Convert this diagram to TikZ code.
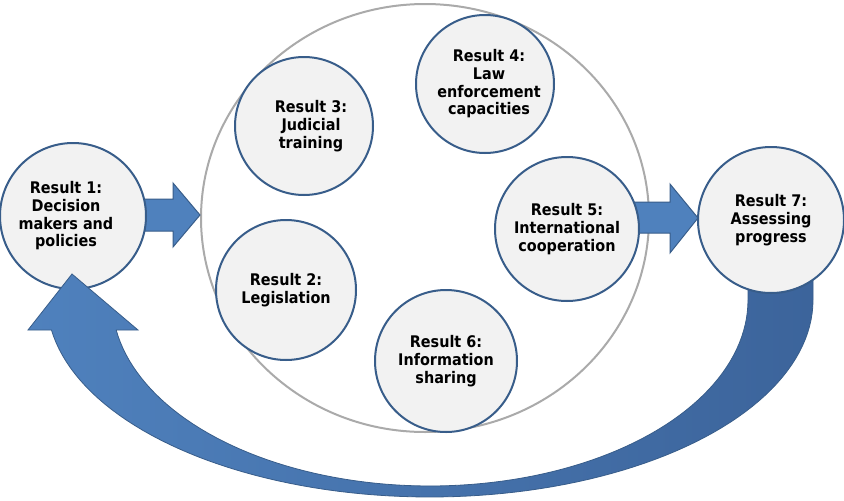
\documentclass[tikz,border=0pt]{standalone}
\usepackage{fontspec}
\setmainfont{DejaVu Sans Condensed}
\usetikzlibrary{shapes.geometric}
\definecolor{cfill}{RGB}{242,242,242}
\definecolor{cline}{RGB}{56,93,138}
\definecolor{gline}{RGB}{170,170,170}
\definecolor{afill}{RGB}{79,129,189}
\definecolor{aline}{RGB}{56,93,138}
\definecolor{adark}{RGB}{60,100,155}
\begin{document}
\begin{tikzpicture}[x=1pt,y=-1pt,
  txt/.style={align=center, inner sep=0pt, font=\bfseries\fontsize{16}{17.7}\selectfont},
  res/.style={circle, draw=cline, line width=2pt, fill=cfill, minimum size=#1, txt},
  blk/.style={fill=afill, draw=aline, line width=1pt}]
\useasboundingbox[fill=white] (0,0) rectangle (844,501);
% big grey circle
\node[ellipse, draw=gline, line width=2pt, minimum width=448pt, minimum height=428pt, inner sep=0pt] (big) at (425,218) {};
% straight block arrows
\draw[blk] (140,199) -- (173,199) -- (173,183) -- (200,215) -- (173,247) -- (173,231) -- (140,231) -- cycle;
\draw[blk] (630,202) -- (670,202) -- (670,184) -- (698,218) -- (670,253) -- (670,233) -- (630,233) -- cycle;
% inner circles
\node[res=140pt] (r2) at (286,290) {Result 2:\\Legislation};
\node[res=138pt, label={[txt, name=t3, xshift=7pt]center:Result 3:\\Judicial\\training}] (r3) at (304,126) {};
\node[res=138pt, label={[txt, name=t4, xshift=4pt]center:Result 4:\\Law\\enforcement\\capacities}] (r4) at (485,84) {};
\node[res=144pt] (r5) at (567,229) {Result 5:\\International\\cooperation};
\node[res=142pt] (r6) at (446,361) {Result 6:\\Information\\sharing};
\node[res=146pt, label={[txt, name=t1, xshift=-7pt]center:Result 1:\\Decision\\makers and\\policies}] (r1) at (73,216) {};
% curved return arrow
\path[draw=aline, line width=0.8pt, left color=afill, right color=adark]
  (813,250) -- (813,300)
  -- plot[domain=0:171.24, samples=90] ({430+383*cos(\x)},{300+197*sin(\x)})
  -- (28,330) -- (72,274) -- (138,330) -- (116,330)
  -- plot[domain=170.72:0, samples=90] ({430+318*cos(\x)},{300+186*sin(\x)})
  -- (748,250) -- cycle;
\node[res=146pt] (r7) at (771,220) {Result 7:\\Assessing\\progress};
\end{tikzpicture}
\end{document}
